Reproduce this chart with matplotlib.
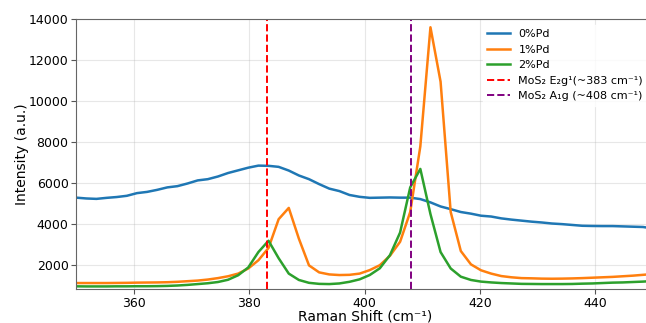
import numpy as np
import matplotlib
matplotlib.use("Agg")
import matplotlib.pyplot as plt

# Raman shift grid (58 points, 350-450 cm^-1)
shift = np.linspace(350, 450, 58)

pd0 = [5300, 5260, 5240, 5290, 5330, 5390, 5520, 5580, 5680, 5800,
       5860, 5990, 6140, 6200, 6330, 6500, 6630, 6760, 6860, 6850,
       6800, 6620, 6380, 6200, 5960, 5740, 5620, 5430, 5340, 5290,
       5300, 5310, 5300, 5300, 5230, 5070, 4870, 4740, 4600, 4520,
       4420, 4380, 4290, 4230, 4180, 4130, 4090, 4040, 4010, 3970,
       3930, 3920, 3915, 3915, 3900, 3885, 3870, 3800]

pd1 = [1140, 1140, 1140, 1140, 1145, 1150, 1160, 1165, 1170, 1180,
       1200, 1230, 1260, 1310, 1380, 1470, 1600, 1850, 2250, 2850,
       4250, 4800, 3300, 2000, 1660, 1560, 1530, 1540, 1600, 1770,
       2010, 2470, 3150, 4600, 7800, 13600, 10950, 4600, 2700, 2050,
       1760, 1600, 1480, 1420, 1380, 1370, 1355, 1350, 1355, 1365,
       1380, 1400, 1420, 1440, 1470, 1500, 1540, 1580]

pd2 = [980, 975, 975, 975, 980, 980, 985, 985, 990, 1000,
       1020, 1050, 1090, 1130, 1190, 1300, 1520, 1900, 2650, 3200,
       2350, 1600, 1290, 1150, 1100, 1090, 1120, 1200, 1320, 1530,
       1860, 2500, 3600, 5800, 6700, 4500, 2650, 1850, 1450, 1290,
       1210, 1170, 1140, 1120, 1100, 1095, 1090, 1090, 1090, 1095,
       1110, 1120, 1140, 1160, 1170, 1190, 1210, 1240]

labels = ["0%Pd", "1%Pd", "2%Pd"]
e2g_pos = 383
a1g_pos = 408

fig = plt.figure(figsize=(6.46, 3.23), dpi=100)
ax = fig.add_axes([0.118, 0.104, 0.893, 0.837])

for y, lab in zip([pd0, pd1, pd2], labels):
    ax.plot(shift, y, lw=1.8, label=lab)

ax.axvline(e2g_pos, color="red", ls="--", lw=1.4,
           label="MoS₂ E₂g¹(~383 cm⁻¹)")
ax.axvline(a1g_pos, color="purple", ls="--", lw=1.4,
           label="MoS₂ A₁g (~408 cm⁻¹)")

ax.set_xlim(350, 450)
ax.set_ylim(830, 14000)
ax.set_xticks([360, 380, 400, 420, 440])
ax.set_yticks(range(2000, 14001, 2000))
ax.tick_params(labelsize=9, color="#555555", pad=2)
ax.grid(alpha=0.3)
for s in ax.spines.values():
    s.set_color("#666666")

ax.set_xlabel("Raman Shift (cm⁻¹)", fontsize=10, va="center")
ax.xaxis.set_label_coords(0.5, -0.099)
ax.set_ylabel("Intensity (a.u.)", fontsize=10, va="center")
ax.yaxis.set_label_coords(-0.094, 0.5)
leg = ax.legend(loc="upper right", fontsize=8)
leg.get_frame().set_edgecolor("white")

fig.savefig("out.png", dpi=100)
